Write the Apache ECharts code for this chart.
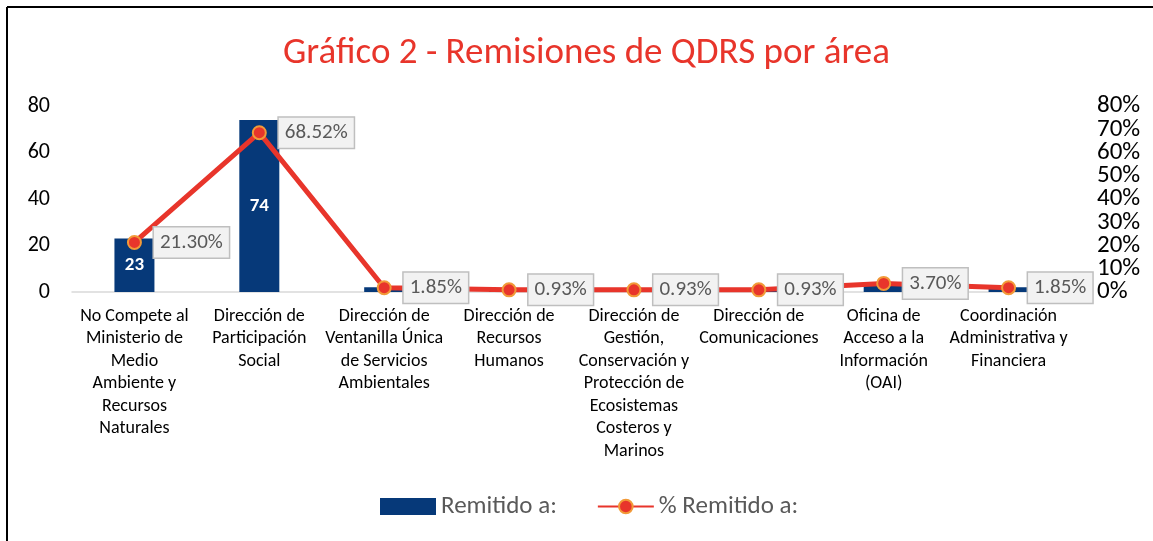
<!doctype html>
<html lang="es">
<head>
    <meta charset="UTF-8">
    <title>Gráfico 2</title>
    <script src="https://cdn.jsdelivr.net/npm/echarts@6/dist/echarts.min.js"></script>
    <style>
        html, body { margin: 0; padding: 0; background: #fff; }
    </style>
</head>
<body>
    <div id="main" style="width: 1153px;height:541px;"></div>
    <script>
        var categories = [
            'No Compete al\nMinisterio de\nMedio\nAmbiente y\nRecursos\nNaturales',
            'Dirección de\nParticipación\nSocial',
            'Dirección de\nVentanilla Única\nde Servicios\nAmbientales',
            'Dirección de\nRecursos\nHumanos',
            'Dirección de\nGestión,\nConservación y\nProtección de\nEcosistemas\nCosteros y\nMarinos',
            'Dirección de\nComunicaciones',
            'Oficina de\nAcceso a la\nInformación\n(OAI)',
            'Coordinación\nAdministrativa y\nFinanciera'
        ];
        var remitido = [23, 74, 2, 1, 1, 1, 4, 2];
        var porcentaje = [21.30, 68.52, 1.85, 0.93, 0.93, 0.93, 3.70, 1.85];
        var leftTicks = [0, 20, 40, 60, 80];
        var rightTicks = [0, 10, 20, 30, 40, 50, 60, 70, 80];

        var font = 'Carlito, Lato, sans-serif';
        var rightLabel = { color: '#000', fontSize: 25, margin: 26, formatter: '{value}%', fontFamily: font };
        var myChart = echarts.init(document.getElementById('main'));

        myChart.setOption({
            backgroundColor: '#fff',
            textStyle: { fontFamily: font },
            title: {
                text: 'Gráfico 2 - Remisiones de QDRS por área',
                left: 278,
                top: 30,
                textStyle: { color: '#e8352b', fontSize: 37, fontWeight: 'normal', fontFamily: font }
            },
            graphic: [
                { type: 'line', shape: { x1: 7, y1: 7, x2: 1153, y2: 7 }, style: { stroke: '#000', lineWidth: 2 } },
                { type: 'line', shape: { x1: 7, y1: 7, x2: 7, y2: 541 }, style: { stroke: '#000', lineWidth: 2 } }
            ],
            legend: {
                bottom: 17,
                left: 375,
                itemGap: 40,
                itemWidth: 56,
                itemHeight: 17,
                textStyle: { color: '#595959', fontSize: 25, fontFamily: font },
                data: [{ name: 'Remitido a:', icon: 'rect' }, { name: '% Remitido a:' }]
            },
            grid: { left: 72, right: 82, top: 106, bottom: 249 },
            xAxis: {
                type: 'category',
                data: categories,
                axisLine: { lineStyle: { color: '#d9d9d9', width: 1.5 } },
                axisTick: { show: false },
                axisLabel: {
                    interval: 0,
                    color: '#000',
                    fontSize: 18,
                    lineHeight: 22.5,
                    margin: 13,
                    fontFamily: font
                }
            },
            yAxis: [{
                type: 'value',
                min: leftTicks[0],
                max: leftTicks[leftTicks.length - 1],
                interval: 20,
                splitLine: { show: false },
                axisLine: { show: false },
                axisTick: { show: false },
                axisLabel: { color: '#000', fontSize: 22, margin: 22, fontFamily: font }
            }, {
                // inner percent ticks (10% .. 70%)
                type: 'value',
                position: 'right',
                min: rightTicks[0],
                max: rightTicks[rightTicks.length - 1],
                interval: 10,
                splitLine: { show: false },
                axisLine: { show: false },
                axisTick: { show: false },
                axisLabel: Object.assign({ showMinLabel: false, showMaxLabel: false }, rightLabel)
            }, {
                // end percent ticks (0% and 80%)
                type: 'value',
                position: 'right',
                min: rightTicks[0],
                max: rightTicks[rightTicks.length - 1],
                interval: 80,
                splitLine: { show: false },
                axisLine: { show: false },
                axisTick: { show: false },
                axisLabel: rightLabel
            }],
            series: [{
                name: 'Remitido a:',
                type: 'bar',
                barWidth: 40,
                data: remitido,
                itemStyle: { color: '#063979' },
                label: {
                    show: true,
                    position: 'inside',
                    color: '#fff',
                    fontWeight: 'bold',
                    fontSize: 19,
                    fontFamily: font,
                    formatter: function (p) { return p.value >= 10 ? p.value : ''; }
                }
            }, {
                name: '% Remitido a:',
                type: 'line',
                yAxisIndex: 1,
                data: porcentaje,
                z: 5,
                symbol: 'circle',
                symbolSize: 13,
                lineStyle: { color: '#e8352b', width: 5 },
                itemStyle: { color: '#e8352b', borderColor: '#f29a38', borderWidth: 2 },
                label: {
                    show: true,
                    position: 'right',
                    distance: 12,
                    color: '#595959',
                    fontSize: 21,
                    fontFamily: font,
                    backgroundColor: '#f2f2f2',
                    borderColor: '#bfbfbf',
                    borderWidth: 1.5,
                    padding: [5, 6, 4, 6],
                    formatter: function (p) { return p.value.toFixed(2) + '%'; }
                }
            }]
        });
    </script>
</body>
</html>
